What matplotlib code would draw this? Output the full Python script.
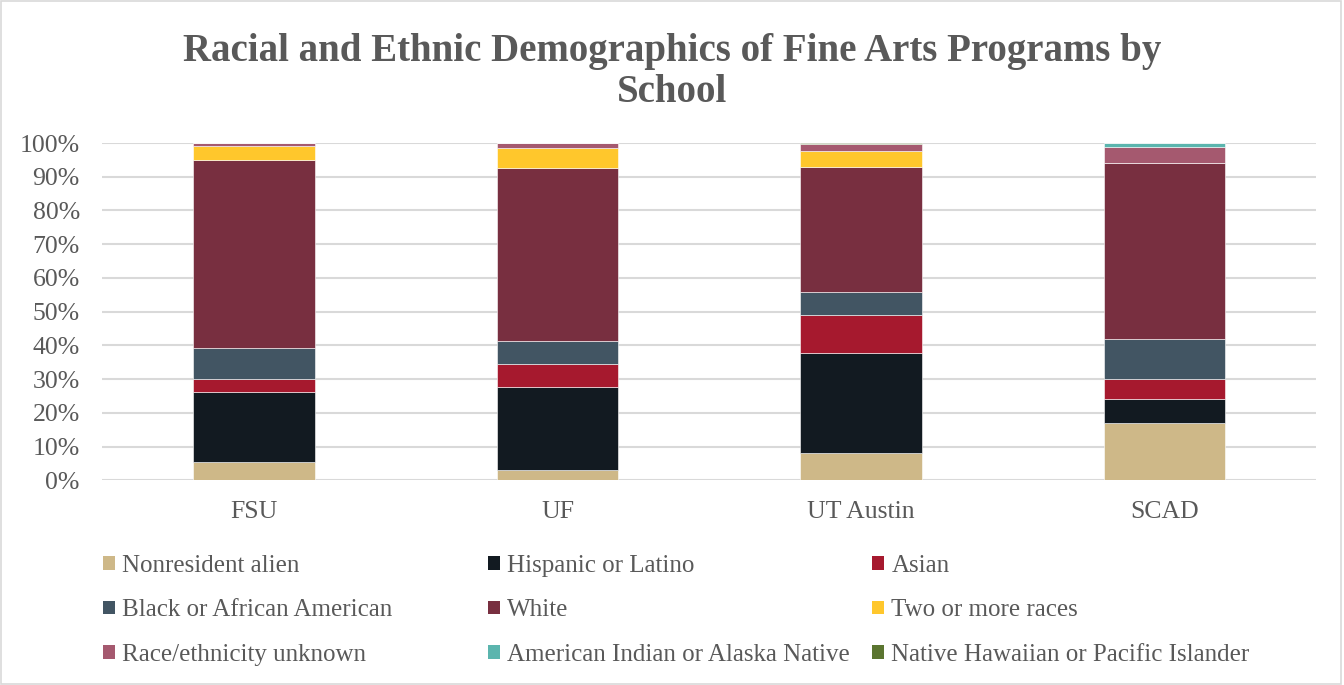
import matplotlib.pyplot as plt
from matplotlib.patches import Patch, Rectangle
from matplotlib.ticker import PercentFormatter

schools = ["FSU", "UF", "UT Austin", "SCAD"]

# percent of students (bottom to top)
nonresident = [5.4, 3.2, 8.1, 17.0]
hispanic = [20.8, 24.6, 29.7, 7.0]
asian = [3.8, 6.6, 11.3, 6.0]
black = [9.1, 6.9, 6.6, 12.0]
white = [55.8, 51.4, 37.3, 52.0]
two_or_more = [4.2, 5.9, 4.5, 0.0]
unknown = [0.9, 1.4, 2.2, 4.9]
am_indian = [0.0, 0.0, 0.0, 1.1]
hawaiian = [0.0, 0.0, 0.3, 0.0]

series = [
    ("Nonresident alien", nonresident, "#CEB888"),
    ("Hispanic or Latino", hispanic, "#121A21"),
    ("Asian", asian, "#A6192E"),
    ("Black or African American", black, "#425563"),
    ("White", white, "#782F40"),
    ("Two or more races", two_or_more, "#FFC72C"),
    ("Race/ethnicity unknown", unknown, "#A5596F"),
    ("American Indian or Alaska Native", am_indian, "#5BB5AE"),
    ("Native Hawaiian or Pacific Islander", hawaiian, "#5B7530"),
]

text_color = "#595959"
font = "Liberation Serif"

fig = plt.figure(figsize=(13.44, 6.85), dpi=100)
ax = fig.add_axes([0.0759, 0.2988, 0.9036, 0.4924])

x = range(len(schools))
bottom = [0.0] * len(schools)
for name, vals, color in series:
    ax.bar(x, vals, width=0.4, bottom=bottom, color=color,
           edgecolor="white", linewidth=0.4, zorder=3)
    bottom = [b + v for b, v in zip(bottom, vals)]

ax.set_xlim(-0.5, len(schools) - 0.5)
ax.set_ylim(0, 100)
ax.set_yticks(range(0, 101, 10))
ax.yaxis.set_major_formatter(PercentFormatter(decimals=0))
ax.set_xticks(list(x))
ax.set_xticklabels(schools)
ax.grid(axis="y", color="#D9D9D9", linewidth=1.5, zorder=0)
for s in ax.spines.values():
    s.set_visible(False)
ax.tick_params(length=0, labelsize=18.5, labelcolor=text_color)
ax.tick_params(axis="x", pad=15)
ax.tick_params(axis="y", pad=16)
for lab in ax.get_xticklabels() + ax.get_yticklabels():
    lab.set_fontfamily(font)

fig.suptitle("Racial and Ethnic Demographics of Fine Arts Programs by\nSchool",
             x=0.5, y=0.952, fontsize=28, fontweight="bold", color=text_color,
             fontfamily=font, linespacing=1.15)

# legend laid out as three columns, filled row by row
col_x = [0.077, 0.363, 0.649]
for c in range(3):
    items = series[c::3]
    handles = [Patch(facecolor=col, edgecolor="none") for _, _, col in items]
    labels = [n for n, _, _ in items]
    fig.legend(handles, labels, loc="upper left", bbox_to_anchor=(col_x[c], 0.190),
               frameon=False, handlelength=0.48, handleheight=0.48, handletextpad=0.28,
               labelspacing=0.9, borderaxespad=0, borderpad=0,
               prop={"family": font, "size": 18}, labelcolor=text_color)

fig.add_artist(Rectangle((0.001, 0.002), 0.997, 0.996, transform=fig.transFigure,
                         fill=False, edgecolor="#D9D9D9", linewidth=1.2))

fig.savefig("out.png", dpi=100)
